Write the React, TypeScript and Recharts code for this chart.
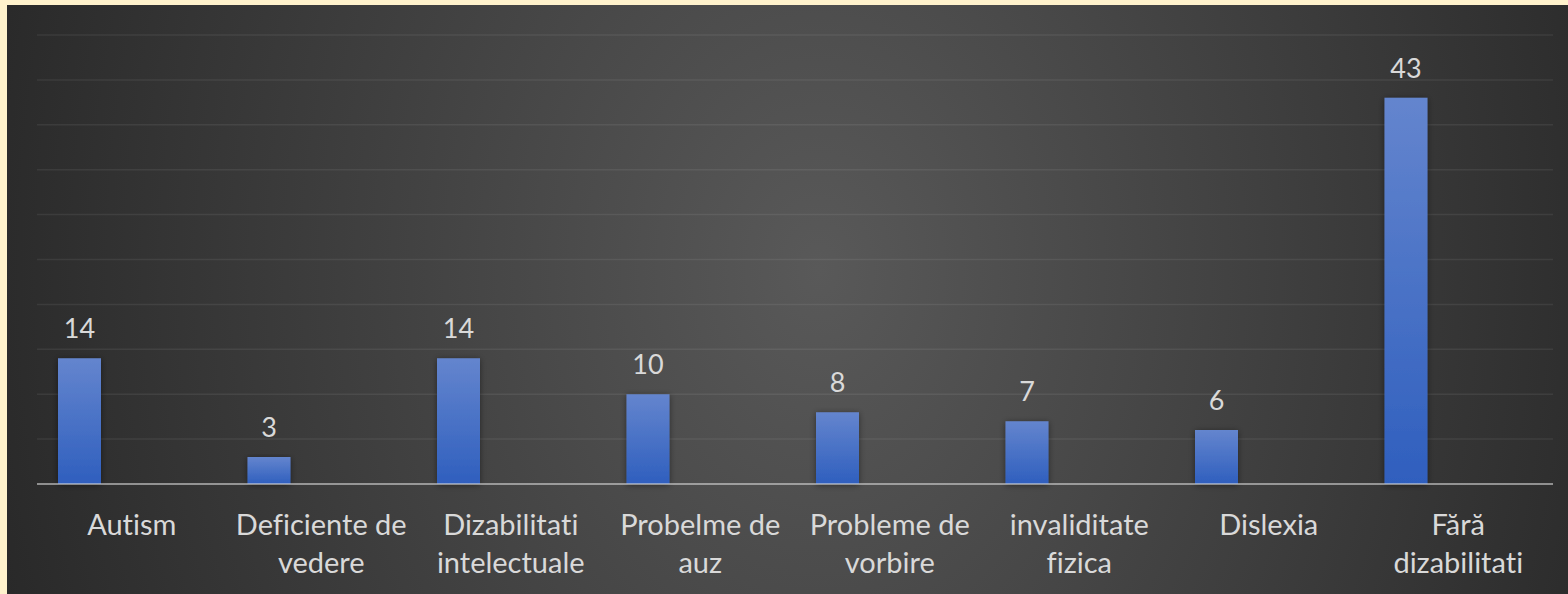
import React from "react";
import { BarChart, Bar, XAxis, YAxis, CartesianGrid, LabelList } from "recharts";

const categories = [
  "Autism",
  "Deficiente de\nvedere",
  "Dizabilitati\nintelectuale",
  "Probelme de\nauz",
  "Probleme de\nvorbire",
  "invaliditate\nfizica",
  "Dislexia",
  "Fără\ndizabilitati",
];
const values = [14, 3, 14, 10, 8, 7, 6, 43];
const emptySeries2: (number | null)[] = [null, null, null, null, null, null, null, null];
const emptySeries3: (number | null)[] = [null, null, null, null, null, null, null, null];
const yTicks = [0, 5, 10, 15, 20, 25, 30, 35, 40, 45, 50];

const data = categories.map((name, i) => ({
  name,
  v: values[i],
  s2: emptySeries2[i],
  s3: emptySeries3[i],
}));

const FONT = "Lato, 'Open Sans', sans-serif";
const TEXT = "#d9d9d9";
const noLig: React.CSSProperties = {
  fontVariantLigatures: "none",
  fontFeatureSettings: '"liga" 0, "clig" 0, "dlig" 0',
};

function CatTick(props: any) {
  const { x, y, payload } = props;
  const lines = String(payload.value).split("\n");
  return (
    <g>
      <text x={x} textAnchor="middle" fill={TEXT} fontSize={29} fontFamily={FONT} style={noLig}>
        {lines.map((l, i) => (
          <tspan key={i} x={x} y={y + 51 + i * 38}>
            {l}
          </tspan>
        ))}
      </text>
    </g>
  );
}

export default function App() {
  return (
    <div
      style={{
        position: "fixed",
        left: 0,
        top: 0,
        width: 1568,
        height: 594,
        background: "#FFF2CC",
      }}
    >
      <div
        style={{
          position: "absolute",
          left: 7,
          top: 5,
          width: 1561,
          height: 589,
          background:
            "radial-gradient(ellipse 58% 200% at 52% 45%, #595959 0%, #262626 100%)",
        }}
      >
        <BarChart
          width={1561}
          height={589}
          data={data}
          margin={{ top: 30, right: 15, left: 30, bottom: 0 }}
          barSize={43}
          barGap={9}
        >
          <defs>
            <linearGradient id="barGrad" x1="0" y1="0" x2="0" y2="1">
              <stop offset="0%" stopColor="#6485CE" />
              <stop offset="100%" stopColor="#2F5FBE" />
            </linearGradient>
            <filter id="barShadow" x="-30%" y="-10%" width="160%" height="130%">
              <feDropShadow dx="0" dy="1" stdDeviation="3" floodColor="#000" floodOpacity="0.45" />
            </filter>
          </defs>
          <CartesianGrid
            horizontal
            vertical={false}
            stroke="rgba(255,255,255,0.07)"
            strokeWidth={1.5}
          />
          <YAxis hide domain={[0, 50]} ticks={yTicks} width={0} />
          <XAxis
            dataKey="name"
            interval={0}
            height={110}
            tickLine={false}
            tickSize={0}
            tickMargin={0}
            axisLine={{ stroke: "rgba(217,217,217,0.55)", strokeWidth: 2 }}
            tick={<CatTick />}
          />
          <Bar
            dataKey="v"
            fill="url(#barGrad)"
            isAnimationActive={false}
            style={{ filter: "url(#barShadow)" }}
          >
            <LabelList
              dataKey="v"
              position="top"
              offset={20}
              fill={TEXT}
              fontSize={27}
              fontFamily={FONT}
            />
          </Bar>
          <Bar dataKey="s2" fill="#ED7D31" isAnimationActive={false} />
          <Bar dataKey="s3" fill="#A5A5A5" isAnimationActive={false} />
        </BarChart>
      </div>
    </div>
  );
}
